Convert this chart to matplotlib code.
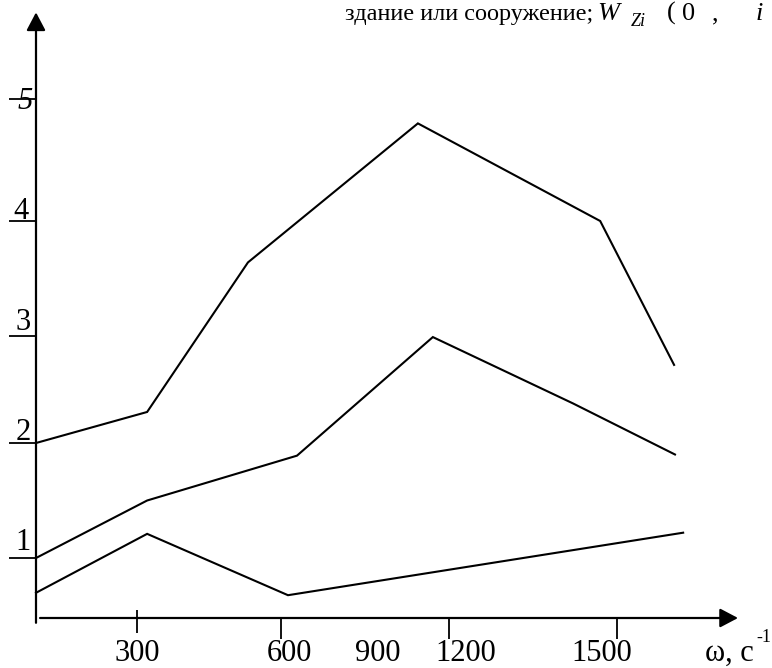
import numpy as np
import matplotlib
matplotlib.use("Agg")
import matplotlib.pyplot as plt

plt.rcParams["font.family"] = ["Liberation Serif", "DejaVu Serif"]

# curves: omega, s^-1  ->  value
W_TOP = [0, 320, 519, 1036, 1496, 1659]
V_TOP = [2.00, 2.29, 3.64, 4.80, 4.00, 2.73]
W_MID = [0, 320, 627, 1087, 1436, 1661]
V_MID = [1.00, 1.50, 1.89, 2.99, 2.37, 1.90]
W_LOW = [0, 320, 598, 1679]
V_LOW = [0.42, 1.21, 0.38, 1.22]

X_TICKS = [300, 600, 900, 1200, 1500]
X_LABELS = ["300", "600", "900", "1200", "1500"]
X_TICK_MARKS = [300, 584, 1142, 1533]   # hand-drawn marks sit a bit off the labels
Y_TICKS = [1, 2, 3, 4, 5]
Y_LABELS = ["1", "2", "3", "4", "5"]

# the sketch is not drawn to a linear scale -> piecewise scale (pixels of the figure)
W_ANCH = np.array([-300, 0, 300, 600, 900, 1200, 1500, 1800, 2100], float)
PX_ANCH = np.array([-65, 36, 137, 289, 378, 466, 602, 738, 874], float)
V_ANCH = np.array([-1, 0, 1, 2, 3, 4, 5, 6], float)
PY_ANCH = -np.array([678, 618, 558, 443, 336, 221, 99, -23], float)


def fwd_x(w):
    return np.interp(w, W_ANCH, PX_ANCH)


def inv_x(p):
    return np.interp(p, PX_ANCH, W_ANCH)


def fwd_y(v):
    return np.interp(v, V_ANCH, PY_ANCH)


def inv_y(p):
    return np.interp(p, PY_ANCH, V_ANCH)


W, H = 772, 668
fig = plt.figure(figsize=(W / 100, H / 100), dpi=100)
fig.patch.set_facecolor("white")
ax = fig.add_axes([0, 0, 1, 1])
ax.set_xscale("function", functions=(fwd_x, inv_x))
ax.set_yscale("function", functions=(fwd_y, inv_y))
ax.set_xlim(inv_x(0), inv_x(W))
ax.set_ylim(inv_y(-H), inv_y(0))
ax.axis("off")

# ── axes with arrows ──────────────────────────────────────────────────────────
arrow = dict(arrowstyle="-|>,head_length=1.1,head_width=0.58", mutation_scale=10,
             lw=1.6, color="black", shrinkA=0, shrinkB=0)
ax.annotate("", xy=(0, 5.71), xytext=(0, -0.08), arrowprops=arrow)
ax.annotate("", xy=(1800, 0), xytext=(12, 0), arrowprops=arrow)

# ── curves ────────────────────────────────────────────────────────────────────
for w, v in [(W_TOP, V_TOP), (W_MID, V_MID), (W_LOW, V_LOW)]:
    ax.plot(w, v, color="black", lw=1.5, solid_joinstyle="miter")

# ── y ticks: short dashes left of the axis, digits sitting on them ────────────
ax.hlines(Y_TICKS, -80, 0, color="black", lw=1.3)
y_lab_off = [(0, 8), (0, 3), (0, 6), (-2, 2), (2, -10)]
for v, lab, (dx, dy) in zip(Y_TICKS, Y_LABELS, y_lab_off):
    ax.annotate(lab, xy=(-39, v), xytext=(dx, dy), textcoords="offset pixels",
                ha="center", va="baseline", fontsize=22,
                style="italic" if lab == "5" else "normal")

# ── x ticks ───────────────────────────────────────────────────────────────────
ax.vlines(X_TICK_MARKS[:1], -0.25, 0.133, color="black", lw=1.3)
ax.vlines(X_TICK_MARKS[1:], -0.35, 0, color="black", lw=1.3)
for w, lab in zip(X_TICKS, X_LABELS):
    ax.annotate(lab, xy=(w, 0), xytext=(0, -43), textcoords="offset pixels",
                ha="center", va="baseline", fontsize=22)

# axis caption
fig.text(705 / W, 1 - 661 / H, "ω, с", fontsize=22, ha="left", va="baseline")
fig.text(756 / W, 1 - 642 / H, "-1", fontsize=13, ha="left", va="baseline")

# line of page text cut by the picture frame (equation-editor spacing)
top_bits = [
    (345, 20, "здание или сооружение;", 17.5, "normal"),
    (597, 20, "W", 19, "italic"),
    (631, 26, "Zi", 13, "italic"),
    (667, 20, "(", 19, "normal"),
    (682, 20, "0", 19, "normal"),
    (712, 20, ",", 19, "normal"),
    (756, 20, "i", 19, "italic"),
]
for px, py, s, fs, st in top_bits:
    fig.text(px / W, 1 - py / H, s, fontsize=fs, style=st,
             ha="left", va="baseline")

fig.savefig("out.png", dpi=100, facecolor="white")
